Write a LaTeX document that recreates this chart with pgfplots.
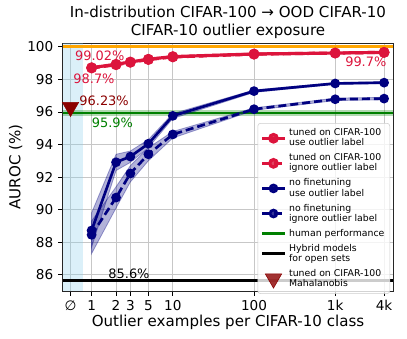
\documentclass[border=0pt]{standalone}
\usepackage{pgfplots}
\pgfplotsset{compat=1.18}
\usepackage{pgfplotstable}
\usepackage{fontspec}
\setmainfont{DejaVu Sans}

\definecolor{crim}{RGB}{220,20,60}
\definecolor{nvy}{RGB}{0,0,128}
\definecolor{grn}{RGB}{0,128,0}
\definecolor{orng}{RGB}{255,165,0}
\definecolor{dred}{RGB}{139,0,0}
\definecolor{sky}{RGB}{135,206,235}

% tuned on CIFAR-100
\pgfplotstableread{
x y
1 98.72
2 98.93
3 99.07
5 99.24
10 99.40
100 99.56
1000 99.62
4000 99.66
}\tunedUse
\pgfplotstableread{
x y
1 98.70
2 98.90
3 99.05
5 99.22
10 99.38
100 99.55
1000 99.62
4000 99.66
}\tunedIgn
% no finetuning
\pgfplotstableread{
x y
1 88.72
2 92.91
3 93.26
5 94.05
10 95.76
100 97.28
1000 97.75
4000 97.80
}\noftUse
\pgfplotstableread{
x y
1 88.45
2 90.74
3 92.22
5 93.40
10 94.62
100 96.17
1000 96.78
4000 96.82
}\noftIgn

\begin{document}
\begin{tikzpicture}
\begin{axis}[
  width=248pt, height=185.8pt, scale only axis,
  xmode=log, xmin=0.44, xmax=5200, ymin=85, ymax=100.22,
  xtick={0.55,1,2,3,5,10,100,1000,4000},
  xticklabels={∅,1,2,3,5,10,100,1k,4k},
  xminorticks=false,
  ytick={86,88,...,100},
  /pgf/number format/assume math mode=true,
  tick align=outside, major tick length=3.5pt,
  xtick pos=bottom, ytick pos=left,
  tick style={black, line width=0.6pt},
  grid=major, major grid style={black!22, line width=0.6pt},
  axis line style={black!85, line width=0.6pt},
  ticklabel style={font=\fontsize{10.2}{12}\selectfont},
  title={\begin{tabular}{@{}c@{}}In-distribution CIFAR-100 → OOD CIFAR-10\\CIFAR-10 outlier exposure\end{tabular}},
  title style={font=\fontsize{11.3}{13.3}\selectfont,
    at={(0.5,1)}, anchor=south, inner sep=0pt, yshift=-4.5pt},
  xlabel={Outlier examples per CIFAR-10 class},
  xlabel style={font=\fontsize{11.3}{13.3}\selectfont,
    at={(axis description cs:0.5,0)}, anchor=base, inner sep=0pt, yshift=-26.8pt},
  ylabel={AUROC (\%)},
  ylabel style={font=\fontsize{11.3}{13.3}\selectfont,
    at={(axis description cs:-0.121,0.5)}, anchor=south, inner sep=0pt},
  legend style={at={(axis description cs:0.99,0.678)}, anchor=north east,
    font=\fontsize{7}{7.6}\selectfont, draw=black!20, fill=white,
    fill opacity=0.8, text opacity=1, rounded corners=2pt,
    cells={align=left, anchor=west}, row sep=0.4pt, inner sep=2pt},
  legend cell align=left,
]
% region for no outlier examples
\addplot[fill=sky, fill opacity=0.3, draw=none, forget plot]
  coordinates {(0.44,85) (0.79,85) (0.79,100.3) (0.44,100.3)} -- cycle;

% reference lines
\addplot[orng, line width=2.3pt, forget plot] coordinates {(0.44,100) (5200,100)};
\addplot[fill=grn, fill opacity=0.3, draw=none, forget plot]
  coordinates {(0.44,95.77) (5200,95.77) (5200,96.13) (0.44,96.13)} -- cycle;
\addplot[grn, line width=1.6pt, forget plot] coordinates {(0.44,95.95) (5200,95.95)};
\addplot[black, line width=2.3pt, forget plot] coordinates {(0.44,85.62) (5200,85.62)};

% std bands, no finetuning
\addplot[fill=nvy, fill opacity=0.3, draw=nvy, draw opacity=0.35, line width=0.6pt, forget plot]
  coordinates {(1,89.8) (2,93.4) (3,93.6) (5,94.3) (10,95.9) (100,97.35) (1000,97.8) (4000,97.85)
  (4000,97.75) (1000,97.7) (100,97.2) (10,95.6) (5,93.8) (3,92.9) (2,92.4) (1,87.7)} -- cycle;
\addplot[fill=nvy, fill opacity=0.3, draw=nvy, draw opacity=0.35, line width=0.6pt, forget plot]
  coordinates {(1,89.3) (2,91.4) (3,92.7) (5,93.8) (10,94.8) (100,96.25) (1000,96.85) (4000,96.9)
  (4000,96.75) (1000,96.7) (100,96.1) (10,94.4) (5,93.0) (3,91.7) (2,90.1) (1,87.3)} -- cycle;

% curves
\addplot[nvy, line width=2pt, mark=*, mark size=2.6pt, forget plot] table {\noftUse};
\addplot[nvy, line width=2pt, dash pattern=on 6pt off 3pt, mark=*, mark size=2.6pt,
  mark options={solid}, forget plot] table {\noftIgn};
\addplot[crim, line width=2.4pt, dash pattern=on 6pt off 3pt, mark=*, mark size=2.8pt,
  mark options={solid}, forget plot] table {\tunedIgn};
\addplot[crim, line width=2.4pt, mark=*, mark size=2.8pt, forget plot] table {\tunedUse};

% Mahalanobis
\addplot[only marks, mark=triangle*, mark size=7.1pt, mark options={rotate=180},
  color=dred, forget plot] coordinates {(0.55,96.3)};

% annotations
\node[anchor=west, inner sep=0pt, text=crim, font=\fontsize{9.7}{11}\selectfont] at (axis cs:0.622,99.46) {99.02\%};
\node[anchor=west, inner sep=0pt, text=crim, font=\fontsize{9.7}{11}\selectfont] at (axis cs:0.593,98.03) {98.7\%};
\node[anchor=west, inner sep=0pt, text=dred, font=\fontsize{9.7}{11}\selectfont] at (axis cs:0.703,96.68) {96.23\%};
\node[anchor=west, inner sep=0pt, text=grn, font=\fontsize{9.7}{11}\selectfont] at (axis cs:1.0,95.35) {95.9\%};
\node[anchor=west, inner sep=0pt, text=black, font=\fontsize{9.7}{11}\selectfont] at (axis cs:1.60,86.07) {85.6\%};
\node[anchor=east, inner sep=0pt, text=crim, font=\fontsize{9.7}{11}\selectfont] at (axis cs:4300,99.06) {99.7\%};

% legend
\addlegendimage{crim, line width=2.4pt, mark=*, mark size=2.8pt}
\addlegendentry{tuned on CIFAR-100\\use outlier label}
\addlegendimage{crim, line width=2.4pt, dash pattern=on 6pt off 3pt, mark=*, mark size=2.8pt, mark options={solid}}
\addlegendentry{tuned on CIFAR-100\\ignore outlier label}
\addlegendimage{nvy, line width=2pt, mark=*, mark size=2.6pt}
\addlegendentry{no finetuning\\use outlier label}
\addlegendimage{nvy, line width=2pt, dash pattern=on 6pt off 3pt, mark=*, mark size=2.6pt, mark options={solid}}
\addlegendentry{no finetuning\\ignore outlier label}
\addlegendimage{grn, line width=1.6pt}
\addlegendentry{human performance}
\addlegendimage{black, line width=2.3pt}
\addlegendentry{Hybrid models\\for open sets}
\addlegendimage{only marks, mark=triangle*, mark size=7.1pt, mark options={rotate=180}, color=dred}
\addlegendentry{tuned on CIFAR-100\\Mahalanobis}
\end{axis}
\pgfresetboundingbox
\path (current axis.south west) ++(-47pt,-36pt) rectangle ++(305.25pt,254.25pt);
\end{tikzpicture}
\end{document}
